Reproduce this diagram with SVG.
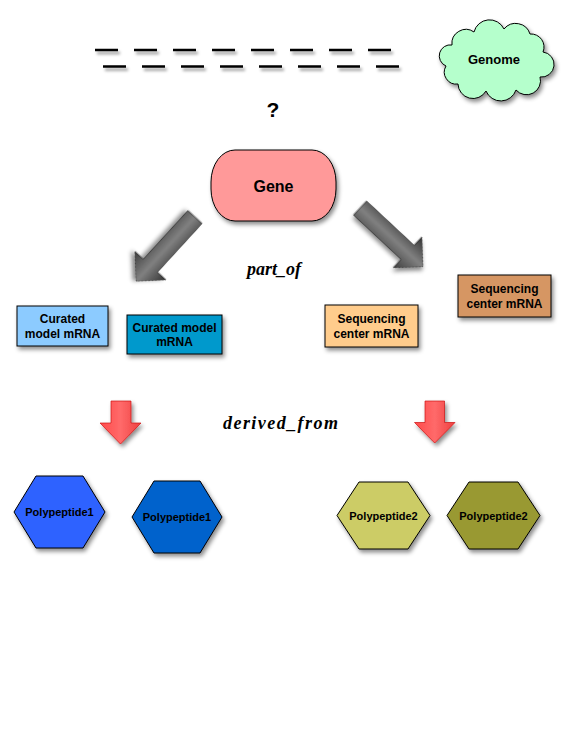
<svg xmlns="http://www.w3.org/2000/svg" width="576" height="733" viewBox="0 0 576 733">
<defs>
<filter id="sh" x="-20%" y="-20%" width="150%" height="160%">
<feDropShadow dx="2" dy="3" stdDeviation="2" flood-color="#000" flood-opacity="0.45"/>
</filter>
<filter id="shu" filterUnits="userSpaceOnUse" x="0" y="0" width="576" height="733">
<feDropShadow dx="2" dy="3" stdDeviation="1.8" flood-color="#000" flood-opacity="0.4"/>
</filter>
<linearGradient id="gray" x1="0" y1="0" x2="0" y2="1">
<stop offset="0" stop-color="#333"/>
<stop offset="0.5" stop-color="#808080"/>
<stop offset="1" stop-color="#3d3d3d"/>
</linearGradient>
<linearGradient id="red" x1="0" y1="0" x2="1" y2="0">
<stop offset="0" stop-color="#ff4a4a"/>
<stop offset="0.5" stop-color="#ff6a6a"/>
<stop offset="1" stop-color="#ee4040"/>
</linearGradient>
</defs>
<style>
.lbl{font-family:"Liberation Sans",Arial,sans-serif;font-weight:bold;fill:#000;text-anchor:middle}
.rel{font-family:"Liberation Serif","Times New Roman",serif;font-weight:bold;font-style:italic;fill:#000;text-anchor:middle}
.box{stroke:#000;stroke-width:1;filter:url(#sh)}
.dash{stroke:#000;stroke-width:2.6;stroke-dasharray:23 16;fill:none}
.garrow{fill:url(#gray);stroke:#222;stroke-width:0.6;filter:url(#sh)}
.rarrow{fill:url(#red);stroke:#cc1111;stroke-width:0.7;filter:url(#sh)}
</style>
<g id="genome-dashes" filter="url(#shu)">
<line class="dash" x1="95" y1="50" x2="392" y2="50"/>
<line class="dash" x1="103" y1="66.5" x2="400" y2="66.5"/>
</g>
<g id="genome">
<path class="box" fill="#b5ffcc" d="M452 45 A14 14 0 0 1 474 32 A16 16 0 0 1 504 29 A15 15 0 0 1 530 34 A13 13 0 0 1 543 52 A12 12 0 0 1 540 77 A14 14 0 0 1 516 90 A16 16 0 0 1 486 91 A15 15 0 0 1 458 84 A12 12 0 0 1 446 66 A11 11 0 0 1 452 45 Z"/>
<text class="lbl" x="494" y="64" font-size="13">Genome</text>
</g>
<g id="question">
<text class="lbl" x="273" y="117" font-size="21">?</text>
</g>
<g id="gene">
<rect class="box" x="211" y="150" width="125" height="71" rx="24" ry="32" fill="#ff9999"/>
<text class="lbl" x="273.5" y="192" font-size="16">Gene</text>
</g>
<g id="connectors">
<path class="garrow" transform="translate(195,217) rotate(132.5)" d="M0 -9.5 L66 -9.5 L66 -21 L87 0 L66 21 L66 9.5 L0 9.5 Z"/>
<path class="garrow" transform="translate(360,208) rotate(43)" d="M0 -9.5 L65 -9.5 L65 -21 L86 0 L65 21 L65 9.5 L0 9.5 Z"/>
<text class="rel" x="274" y="275" font-size="18">part_of</text>
<path class="rarrow" d="M111 401 L131 401 L131 423 L141 423 L120.5 444 L100 423 L111 423 Z"/>
<path class="rarrow" d="M425 401 L444.5 401 L444.5 422.5 L455 422.5 L434.7 443 L414.5 422.5 L425 422.5 Z"/>
<text class="rel" x="280.5" y="429" font-size="18" textLength="115" lengthAdjust="spacing">derived_from</text>
</g>
<g id="curated1">
<rect class="box" x="17" y="306" width="91" height="40" fill="#8ccbff"/>
<text class="lbl" x="62.5" y="323" font-size="12">Curated</text>
<text class="lbl" x="62.5" y="337.5" font-size="12">model mRNA</text>
</g>
<g id="curated2">
<rect class="box" x="127" y="315" width="95" height="39" fill="#0099cc"/>
<text class="lbl" x="174.5" y="331.5" font-size="12">Curated model</text>
<text class="lbl" x="174.5" y="346" font-size="12">mRNA</text>
</g>
<g id="seq1">
<rect class="box" x="325" y="305" width="93" height="42" fill="#ffcc8c"/>
<text class="lbl" x="371.5" y="323" font-size="12">Sequencing</text>
<text class="lbl" x="371.5" y="337.5" font-size="12">center mRNA</text>
</g>
<g id="seq2">
<rect class="box" x="458" y="275" width="93" height="42" fill="#d69664"/>
<text class="lbl" x="504.5" y="293" font-size="12">Sequencing</text>
<text class="lbl" x="504.5" y="307.5" font-size="12">center mRNA</text>
</g>
<g id="poly1a">
<polygon class="box" fill="#2d62ff" points="14,512 36,476 83,476 105,512 83,548 36,548"/>
<text class="lbl" x="59.5" y="516" font-size="11">Polypeptide1</text>
</g>
<g id="poly1b">
<polygon class="box" fill="#0062cc" points="132,517 154,481 200,481 222,517 200,553 154,553"/>
<text class="lbl" x="177" y="521" font-size="11">Polypeptide1</text>
</g>
<g id="poly2a">
<polygon class="box" fill="#cccc66" points="337,515.5 359,482 408,482 430,515.5 408,549 359,549"/>
<text class="lbl" x="383.5" y="519.5" font-size="11">Polypeptide2</text>
</g>
<g id="poly2b">
<polygon class="box" fill="#999933" points="447,515.5 469,482 518,482 540,515.5 518,549 469,549"/>
<text class="lbl" x="493.5" y="519.5" font-size="11">Polypeptide2</text>
</g>
</svg>
